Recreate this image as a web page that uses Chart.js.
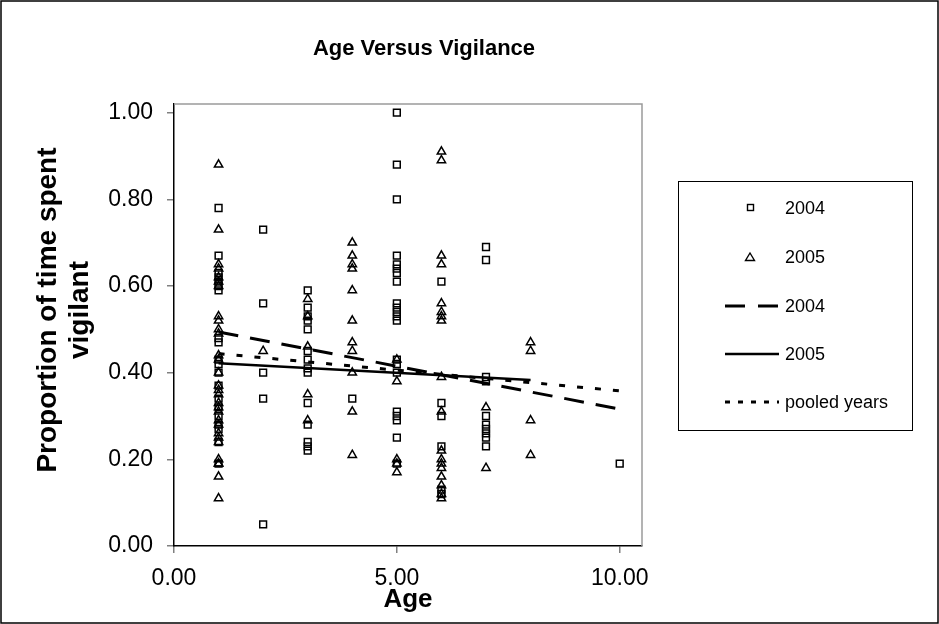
<!DOCTYPE html>
<html>
<head>
<meta charset="utf-8">
<script src="https://cdn.jsdelivr.net/npm/chart.js@4.4.0/dist/chart.umd.min.js"></script>
<style>
  html, body { margin: 0; padding: 0; background: #fff; }
  #vigChart { display: block; }
</style>
</head>
<body>
<canvas id="vigChart" width="939" height="624"></canvas>
<script>
// 2004 observations (squares)
const age2004 = [
    1, 1, 1, 1, 1, 1, 1, 1, 1, 1, 1, 1, 1, 1, 1, 1, 1, 1, 1, 1,
    2, 2, 2, 2, 2,
    3, 3, 3, 3, 3, 3, 3, 3, 3, 3, 3, 3, 3, 3,
    4,
    5, 5, 5, 5, 5, 5, 5, 5, 5, 5, 5, 5, 5, 5, 5, 5, 5, 5, 5, 5, 5,
    6, 6, 6, 6, 6, 6,
    7, 7, 7, 7, 7, 7, 7, 7, 7, 7,
    10
];
const vig2004 = [
    0.78, 0.67, 0.63, 0.62, 0.61, 0.60, 0.59, 0.48, 0.47, 0.43, 0.42, 0.40, 0.37, 0.34, 0.32, 0.30, 0.28, 0.27, 0.24, 0.19,
    0.73, 0.56, 0.40, 0.34, 0.05,
    0.59, 0.55, 0.53, 0.52, 0.50, 0.45, 0.43, 0.41, 0.40, 0.33, 0.28, 0.24, 0.23, 0.22,
    0.34,
    1.00, 0.88, 0.80, 0.67, 0.65, 0.64, 0.63, 0.61, 0.56, 0.55, 0.54, 0.53, 0.52, 0.43, 0.42, 0.40, 0.31, 0.30, 0.29, 0.25, 0.19,
    0.61, 0.33, 0.30, 0.23, 0.13, 0.12,
    0.69, 0.66, 0.39, 0.38, 0.30, 0.28, 0.27, 0.26, 0.25, 0.23,
    0.19
];

// 2005 observations (triangles)
const age2005 = [
    1, 1, 1, 1, 1, 1, 1, 1, 1, 1, 1, 1, 1, 1, 1, 1, 1, 1, 1, 1, 1, 1, 1, 1, 1, 1, 1, 1, 1, 1,
    2,
    3, 3, 3, 3, 3,
    4, 4, 4, 4, 4, 4, 4, 4, 4, 4, 4,
    5, 5, 5, 5, 5,
    6, 6, 6, 6, 6, 6, 6, 6, 6, 6, 6, 6, 6, 6, 6, 6, 6, 6,
    7, 7,
    8, 8, 8, 8
];
const vig2005 = [
    0.88, 0.73, 0.65, 0.64, 0.62, 0.61, 0.60, 0.53, 0.52, 0.50, 0.49, 0.44, 0.43, 0.40, 0.37, 0.36, 0.35, 0.33, 0.32, 0.31, 0.29, 0.28, 0.26, 0.25, 0.24, 0.20, 0.19, 0.19, 0.16, 0.11,
    0.45,
    0.57, 0.53, 0.46, 0.35, 0.29,
    0.70, 0.67, 0.65, 0.64, 0.59, 0.52, 0.47, 0.45, 0.40, 0.31, 0.21,
    0.43, 0.38, 0.20, 0.19, 0.17,
    0.91, 0.89, 0.67, 0.65, 0.56, 0.54, 0.53, 0.52, 0.39, 0.31, 0.22, 0.20, 0.19, 0.18, 0.16, 0.14, 0.12, 0.11,
    0.32, 0.18,
    0.47, 0.45, 0.29, 0.21
];

// fitted trend lines (end points)
const trendAge2004 = [1, 10];
const trendVig2004 = [0.494, 0.316];
const trendAge2005 = [1, 8];
const trendVig2005 = [0.422, 0.383];
const trendAgePooled = [1, 10];
const trendVigPooled = [0.444, 0.358];

const xTicks = [0, 5, 10];
const yTicks = [0, 0.2, 0.4, 0.6, 0.8, 1.0];

function toPoints(xs, ys) {
    return xs.map((x, i) => ({ x: x, y: ys[i] }));
}

const FONT = 'Arial, "Liberation Sans", sans-serif';

// titles, frame, plot border and legend box drawn around the chart
const decorations = {
    id: 'decorations',
    beforeDatasetsDraw(chart) {
        const { ctx, chartArea: a } = chart;
        ctx.save();
        ctx.strokeStyle = '#9a9a9a';
        ctx.lineWidth = 1.5;
        ctx.beginPath();
        ctx.moveTo(a.left, a.top);
        ctx.lineTo(a.right, a.top);
        ctx.lineTo(a.right, a.bottom);
        ctx.stroke();
        ctx.restore();
    },
    afterDraw(chart) {
        const ctx = chart.ctx;
        ctx.save();
        // outer frame
        ctx.strokeStyle = '#000';
        ctx.lineWidth = 1.5;
        ctx.strokeRect(1, 1, chart.width - 2, chart.height - 2);

        // main title
        ctx.fillStyle = '#000';
        ctx.textAlign = 'center';
        ctx.textBaseline = 'middle';
        ctx.font = 'bold 22px ' + FONT;
        ctx.fillText('Age Versus Vigilance', 424, 49);

        // y axis title
        ctx.save();
        ctx.translate(48, 310);
        ctx.rotate(-Math.PI / 2);
        ctx.font = 'bold 28px ' + FONT;
        ctx.fillText('Proportion of time spent', 0, 0);
        ctx.fillText('vigilant', 0, 32);
        ctx.restore();

        // legend
        const box = { left: 678, top: 181, right: 912, bottom: 430 };
        ctx.lineWidth = 1;
        ctx.strokeStyle = '#000';
        ctx.strokeRect(box.left + 0.5, box.top + 0.5, box.right - box.left, box.bottom - box.top);
        const rows = [208, 257, 306, 354, 402];
        ctx.font = '18px ' + FONT;
        ctx.textAlign = 'left';
        chart.data.datasets.forEach((ds, i) => {
            const y = rows[i];
            ctx.save();
            ctx.strokeStyle = '#000';
            if (ds.showLine) {
                ctx.lineWidth = ds.borderWidth;
                ctx.setLineDash(ds.legendDash || []);
                ctx.beginPath();
                ctx.moveTo(725, y);
                ctx.lineTo(779, y);
                ctx.stroke();
            } else if (ds.pointStyle === 'rect') {
                ctx.lineWidth = 1.4;
                ctx.strokeRect(747.5, y - 3.5, 6, 6);
            } else {
                ctx.lineWidth = 1.4;
                ctx.beginPath();
                ctx.moveTo(750, y - 4);
                ctx.lineTo(754.5, y + 3.5);
                ctx.lineTo(745.5, y + 3.5);
                ctx.closePath();
                ctx.stroke();
            }
            ctx.restore();
            ctx.fillText(ds.label, 785, y + 1);
        });
        ctx.restore();
    }
};

const ctx = document.getElementById('vigChart').getContext('2d');
const vigChart = new Chart(ctx, {
    type: 'scatter',
    data: {
        datasets: [{
            label: '2004',
            data: toPoints(age2004, vig2004),
            pointStyle: 'rect',
            pointRadius: 4.8,
            borderColor: '#000',
            backgroundColor: 'rgba(0,0,0,0)',
            borderWidth: 1.5,
            order: 2
        }, {
            label: '2005',
            data: toPoints(age2005, vig2005),
            pointStyle: 'triangle',
            pointRadius: 4.8,
            borderColor: '#000',
            backgroundColor: 'rgba(0,0,0,0)',
            borderWidth: 1.5,
            order: 2
        }, {
            label: '2004',
            data: toPoints(trendAge2004, trendVig2004),
            showLine: true,
            borderColor: '#000',
            borderWidth: 3,
            borderDash: [20, 12],
            legendDash: [20, 13],
            pointRadius: 0,
            order: 1
        }, {
            label: '2005',
            data: toPoints(trendAge2005, trendVig2005),
            showLine: true,
            borderColor: '#000',
            borderWidth: 2.5,
            pointRadius: 0,
            order: 1
        }, {
            label: 'pooled years',
            data: toPoints(trendAgePooled, trendVigPooled),
            showLine: true,
            borderColor: '#000',
            borderWidth: 3,
            borderDash: [6, 12],
            legendDash: [5, 8],
            pointRadius: 0,
            order: 1
        }]
    },
    options: {
        responsive: false,
        animation: false,
        devicePixelRatio: 1,
        layout: {
            padding: { left: 0, top: 104, right: 297, bottom: 0 }
        },
        plugins: {
            legend: { display: false },
            title: { display: false },
            tooltip: { enabled: false }
        },
        scales: {
            x: {
                type: 'linear',
                min: 0,
                max: 10.5,
                afterFit: function(scale) { scale.height = 78; },
                afterBuildTicks: function(scale) {
                    scale.ticks = xTicks.map(v => ({ value: v }));
                },
                border: { display: true, color: '#000', width: 1.5 },
                grid: {
                    drawOnChartArea: false,
                    drawTicks: true,
                    tickLength: 7,
                    color: '#808080',
                    lineWidth: 1.5
                },
                ticks: {
                    color: '#000',
                    font: { family: FONT, size: 23 },
                    padding: 12,
                    maxRotation: 0,
                    callback: function(value) { return value.toFixed(2); }
                },
                title: {
                    display: true,
                    text: 'Age',
                    color: '#000',
                    font: { family: FONT, size: 26, weight: 'bold' },
                    padding: { top: 0, bottom: 9 }
                }
            },
            y: {
                type: 'linear',
                min: 0,
                max: 1.02,
                afterFit: function(scale) { scale.width = 174; },
                afterBuildTicks: function(scale) {
                    scale.ticks = yTicks.map(v => ({ value: v }));
                },
                border: { display: true, color: '#000', width: 1.5 },
                grid: {
                    drawOnChartArea: false,
                    drawTicks: true,
                    tickLength: 7,
                    color: '#808080',
                    lineWidth: 1.5
                },
                ticks: {
                    color: '#000',
                    font: { family: FONT, size: 23 },
                    padding: 14,
                    callback: function(value) { return value.toFixed(2); }
                }
            }
        }
    },
    plugins: [decorations]
});
</script>
</body>
</html>
